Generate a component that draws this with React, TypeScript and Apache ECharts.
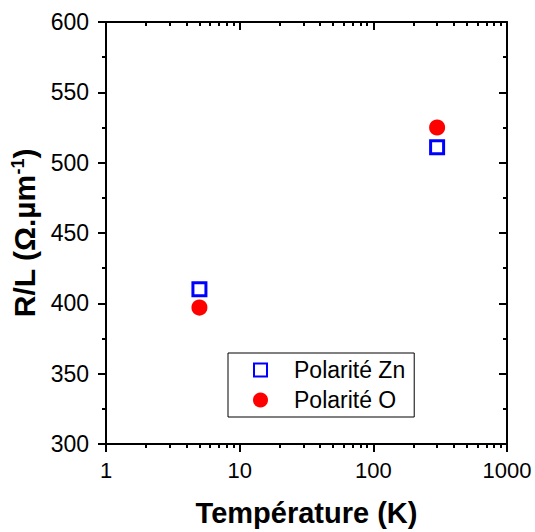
import React, { useEffect, useRef } from "react";
import * as echarts from "echarts";

const temperatures = [5, 300];
const znValues = [410, 511];
const oValues = [397, 525];
const seriesNames = ["Polarité Zn", "Polarité O"];
const xMajorTicks = [1, 10, 100, 1000];
const xMinorTicks = [2, 3, 4, 5, 6, 7, 8, 9, 20, 30, 40, 50, 60, 70, 80, 90, 200, 300, 400, 500, 600, 700, 800, 900];

const FONT = "'Liberation Sans', Arial, Helvetica, sans-serif";

export default function App() {
  const ref = useRef<HTMLDivElement>(null);
  useEffect(() => {
    if (!ref.current) return;
    const chart = echarts.init(ref.current, null, { renderer: "svg" });
    const lineStyle = { color: "#000", width: 2 };
    const baseX = (position: string, inside: boolean, minor: boolean, showLine: boolean) => ({
      type: "log",
      logBase: 10,
      min: 1,
      max: 1000,
      position,
      gridIndex: 0,
      axisLine: { show: showLine, onZero: false, lineStyle },
      axisTick: minor
        ? { show: true, inside, length: 4, lineStyle: { color: "#000", width: 2 }, customValues: xMinorTicks }
        : { show: true, inside, length: 8, lineStyle: { color: "#000", width: 2 }, customValues: xMajorTicks },
      axisLabel: { show: false },
      splitLine: { show: false },
      minorTick: { show: false },
      minorSplitLine: { show: false },
    });
    const xMain = {
      ...baseX("bottom", false, false, true),
      axisLabel: {
        show: true,
        color: "#000",
        fontSize: 22,
        fontFamily: FONT,
        margin: 15,
        customValues: xMajorTicks,
        formatter: (v: number) => String(Math.round(v)),
      },
      name: "Température (K)",
      nameLocation: "middle",
      nameGap: 54,
      nameTextStyle: { color: "#000", fontSize: 29, fontWeight: "bold", fontFamily: FONT },
    };
    const baseY = (position: string, inside: boolean) => ({
      type: "value",
      min: 300,
      max: 600,
      interval: 50,
      position,
      axisLine: { show: true, onZero: false, lineStyle },
      axisTick: { show: true, inside, length: 8, lineStyle: { color: "#000", width: 2 } },
      minorTick: { show: true, splitNumber: 2, length: 4, lineStyle: { color: "#000", width: 2 } },
      axisLabel: { show: false },
      splitLine: { show: false },
      minorSplitLine: { show: false },
    });
    const yMain = {
      ...baseY("left", false),
      axisLabel: { show: true, color: "#000", fontSize: 23, fontFamily: FONT, margin: 17 },
      name: "{t|R/L (Ω.µm}{s|-1}{t|)}",
      nameLocation: "middle",
      nameGap: 66,
      nameTextStyle: {
        color: "#000",
        fontSize: 30,
        fontWeight: "bold",
        fontFamily: FONT,
        rich: {
          t: { fontSize: 30, fontWeight: "bold", fontFamily: FONT, color: "#000" },
          s: { fontSize: 18, fontWeight: "bold", fontFamily: FONT, color: "#000", verticalAlign: "top", padding: [0, 0, 13, 0] },
        },
      },
    };
    chart.setOption({
      animation: false,
      backgroundColor: "#fff",
      grid: { left: 106, right: 28, top: 22, bottom: 86, containLabel: false },
      xAxis: [
        xMain,
        baseX("bottom", false, true, false),
        baseX("top", true, false, true),
        baseX("top", true, true, false),
      ],
      yAxis: [yMain, baseY("right", true)],
      legend: {
        orient: "vertical",
        left: 228,
        top: 353,
        borderColor: "#000",
        borderWidth: 1,
        padding: [5, 9, 5, 25],
        itemWidth: 13,
        itemHeight: 13,
        itemGap: 6,
        textStyle: { color: "#000", fontSize: 23, fontFamily: FONT, lineHeight: 24, padding: [0, 0, 0, 22] },
        data: seriesNames,
      },
      series: [
        {
          name: seriesNames[0],
          type: "scatter",
          xAxisIndex: 0,
          yAxisIndex: 0,
          symbol: "rect",
          symbolSize: 13,
          itemStyle: { color: "#fff", borderColor: "#0000ff", borderWidth: 3, opacity: 1 },
          data: temperatures.map((t, i) => [t, znValues[i]]),
        },
        {
          name: seriesNames[1],
          type: "scatter",
          xAxisIndex: 0,
          yAxisIndex: 0,
          symbol: "circle",
          symbolSize: 13,
          itemStyle: { color: "#ff0000", borderColor: "#ff0000", borderWidth: 3, opacity: 1 },
          data: temperatures.map((t, i) => [t, oValues[i]]),
        },
      ],
    });
    return () => chart.dispose();
  }, []);
  return <div ref={ref} style={{ position: "fixed", left: 0, top: 0, width: 535, height: 532 }} />;
}
